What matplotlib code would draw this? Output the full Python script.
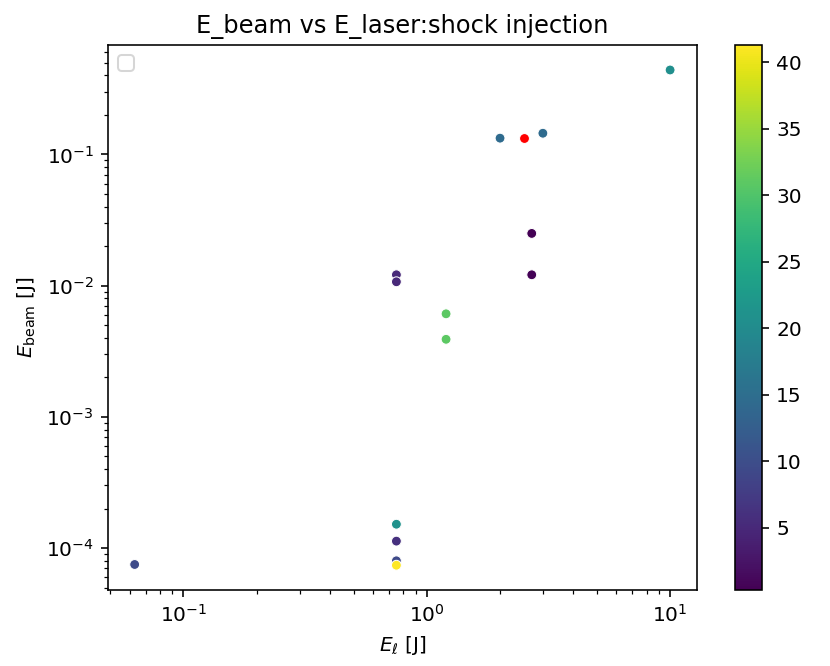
import matplotlib
matplotlib.use("Agg")
import matplotlib.pyplot as plt
import numpy as np

# data
e_laser = [10.0, 2.0, 3.0, 2.7, 2.7, 0.75, 0.75, 1.2, 1.2, 0.75, 0.75, 0.75, 0.75, 0.063]
e_beam = [0.44, 0.133, 0.145, 0.025, 0.0121, 0.0121, 0.0107, 0.0061, 0.0039,
          1.52e-4, 1.13e-4, 8.0e-5, 7.4e-5, 7.5e-5]
c_vals = [20.5, 14.5, 14.5, 0.3, 0.5, 5.0, 5.0, 31.0, 31.0, 21.0, 6.0, 9.5, 41.3, 9.5]
red_x = [2.5]
red_y = [0.133]

DPI = 145
fig = plt.figure(figsize=(830 / DPI, 666 / DPI), dpi=DPI)
ax = fig.add_axes([0.130, 0.1141, 0.7096, 0.818])
cax = fig.add_axes([0.8855, 0.1141, 0.0325, 0.818])

sc = ax.scatter(e_laser, e_beam, c=c_vals, cmap='viridis', s=24,
                edgecolors='white', linewidths=0.5)
ax.scatter(red_x, red_y, color='red', s=24, edgecolors='white', linewidths=0.5)
ax.set_xscale('log')
ax.set_yscale('log')
ax.set_xlabel(r'$E_\ell$ [J]')
ax.set_ylabel(r'$E_{\rm beam}$ [J]')
ax.set_title('E_beam vs E_laser:shock injection')
ax.legend(loc='upper left')
fig.colorbar(sc, cax=cax)

fig.savefig('out.png', dpi=DPI)
